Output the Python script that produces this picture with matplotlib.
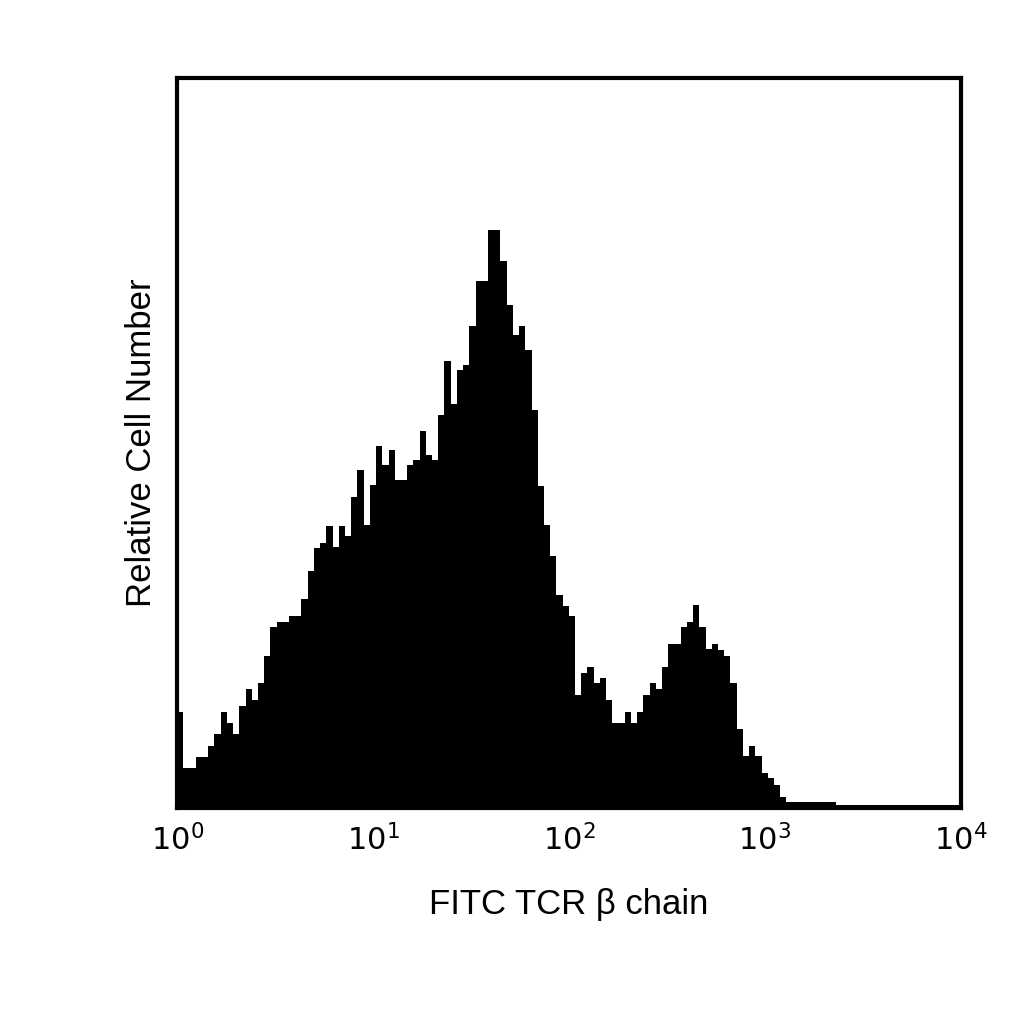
import numpy as np
import matplotlib
matplotlib.use("Agg")
import matplotlib.pyplot as plt

# top pixel rows -> counts = 808 - y
tops = [712,768,768,757,757,746,734,712,723,734,706,689,700,683,656,627,622,622,616,616,
        599,571,548,543,526,547,526,536,497,470,525,485,
        446,465,450,480,480,465,460,431,455,460,415,361,404,370,365,326,281,281,
        230,230,261,305,335,326,350,410,486,525,556,595,606,616,
        695,673,667,683,678,700,723,723,712,723,712,695,683,689,667,644,644,627,622,605,
        627,649,644,650,656,683,729,756,746,756,773,778,785,797,
        802,802,802,802,802,802,802,802] + [805]*20
counts = [808 - t for t in tops]
edges = np.logspace(0, 4, len(counts) + 1)
xtick_vals = [1, 10, 100, 1000, 10000]
xtick_labels = [r"$10^0$", r"$10^1$", r"$10^2$", r"$10^3$", r"$10^4$"]

plt.rcParams['font.family'] = ['Liberation Sans', 'DejaVu Sans']
fig = plt.figure(figsize=(10.24, 10.24), dpi=100)
ax = fig.add_axes([0.173, 0.211, 0.765, 0.713])
ax.stairs(counts, edges, fill=True, color='black')
ax.set_xscale('log')
ax.set_xlim(1, 10000)
ax.set_ylim(0, 730)
ax.set_xticks(xtick_vals)
ax.set_xticklabels(xtick_labels, fontsize=22)
ax.minorticks_off()
ax.tick_params(axis='x', length=0, pad=12)
ax.set_yticks([])
for s in ax.spines.values():
    s.set_linewidth(3)
ax.set_xlabel("FITC TCR β chain", fontsize=25, labelpad=22)
ax.set_ylabel("Relative Cell Number", fontsize=25, labelpad=14)
fig.savefig("out.png", dpi=100)
